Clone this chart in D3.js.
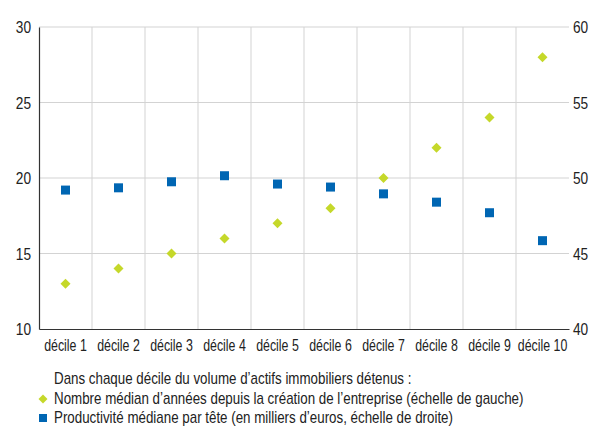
<!DOCTYPE html>
<html>
<head>
<meta charset="utf-8">
<script src="https://cdn.jsdelivr.net/npm/d3@7"></script>
<style>
  html, body { margin: 0; padding: 0; background: #fff; }
  svg text { font-family: "Liberation Sans", Arial, sans-serif; fill: #222; }
</style>
</head>
<body>
<svg id="chart" width="599" height="428"></svg>
<script>
// Deciles of real-estate assets held
const categories = ["décile 1", "décile 2", "décile 3", "décile 4", "décile 5",
                    "décile 6", "décile 7", "décile 8", "décile 9", "décile 10"];
// Median number of years since company creation (left scale)
const ageValues = [13, 14, 15, 16, 17, 18, 20, 22, 24, 28];
// Median productivity per head, thousands of euros (right scale)
const productivityValues = [49.2, 49.35, 49.75, 50.15, 49.6, 49.4, 48.95, 48.4, 47.7, 45.85];
const leftTicks = [10, 15, 20, 25, 30];
const rightTicks = [40, 45, 50, 55, 60];
const legendTitle = "Dans chaque décile du volume d’actifs immobiliers détenus :";
const legendLabels = [
  "Nombre médian d’années depuis la création de l’entreprise (échelle de gauche)",
  "Productivité médiane par tête (en milliers d’euros, échelle de droite)"
];

const green = "#c5d82a";
const blue = "#0066b3";
const gridColor = "#d3d3d3";

const svg = d3.select("#chart");
const m = { left: 39, right: 569, top: 27, bottom: 329 };

// condensed look: narrow each text horizontally around its own x position
function condense(sel, ratio) {
  sel.each(function () {
    const t = d3.select(this);
    const x0 = +t.attr("x") || 0;
    const y0 = +t.attr("y") || 0;
    t.attr("x", 0).attr("y", 0)
     .attr("transform", `translate(${x0},${y0}) scale(${ratio},1)`);
  });
}

const x = d3.scaleBand().domain(categories).range([m.left, m.right]).padding(0);
const yL = d3.scaleLinear().domain([10, 30]).range([m.bottom, m.top]);
const yR = d3.scaleLinear().domain([40, 60]).range([m.bottom, m.top]);

// horizontal gridlines
svg.append("g").selectAll("line").data(leftTicks.slice(1)).join("line")
  .attr("x1", m.left).attr("x2", m.right)
  .attr("y1", d => yL(d)).attr("y2", d => yL(d))
  .attr("stroke", gridColor).attr("stroke-width", 1);

// vertical gridlines between deciles
svg.append("g").selectAll("line").data(categories.slice(1)).join("line")
  .attr("x1", d => x(d)).attr("x2", d => x(d))
  .attr("y1", m.top).attr("y2", m.bottom)
  .attr("stroke", gridColor).attr("stroke-width", 1);

// left axis
const axL = svg.append("g").attr("transform", `translate(${m.left},0)`)
  .call(d3.axisLeft(yL).tickValues(leftTicks).tickSize(0).tickPadding(8));
axL.select(".domain").attr("stroke", "#333").attr("stroke-width", 1.2);
axL.selectAll("text").style("font-size", "16.5px").attr("dy", "0.35em").call(condense, 0.83);

// right axis (labels only)
const axR = svg.append("g").attr("transform", `translate(${m.right},0)`)
  .call(d3.axisRight(yR).tickValues(rightTicks).tickSize(0).tickPadding(4));
axR.select(".domain").remove();
axR.selectAll("text").style("font-size", "16.5px").attr("dy", "0.35em").call(condense, 0.83);

// bottom axis
const axB = svg.append("g").attr("transform", `translate(0,${m.bottom})`)
  .call(d3.axisBottom(x).tickSize(0).tickPadding(12));
axB.select(".domain").attr("stroke", "#333").attr("stroke-width", 1.2);
axB.selectAll("text").style("font-size", "16.5px").attr("dy", "0.6em").call(condense, 0.75);

const cx = d => x(d) + x.bandwidth() / 2;

// productivity squares
svg.append("g").selectAll("rect").data(categories).join("rect")
  .attr("x", d => cx(d) - 4.5)
  .attr("y", (d, i) => yR(productivityValues[i]) - 4.5)
  .attr("width", 9).attr("height", 9)
  .attr("fill", blue);

// age diamonds
const diamond = d3.symbol().type(d3.symbolSquare).size(50);
svg.append("g").selectAll("path").data(categories).join("path")
  .attr("d", diamond)
  .attr("transform", (d, i) => `translate(${cx(d)},${yL(ageValues[i])}) rotate(45)`)
  .attr("fill", green);

// legend
const lg = svg.append("g").style("font-size", "16px");
lg.append("text").attr("x", 54).attr("y", 384).text(legendTitle).attr("class", "lt");
lg.append("path").attr("d", d3.symbol().type(d3.symbolSquare).size(40))
  .attr("transform", "translate(43,399) rotate(45)").attr("fill", green);
lg.append("text").attr("x", 54).attr("y", 404).text(legendLabels[0]).attr("class", "lt");
lg.append("rect").attr("x", 39).attr("y", 414).attr("width", 8).attr("height", 8).attr("fill", blue);
lg.append("text").attr("x", 54).attr("y", 423).text(legendLabels[1]).attr("class", "lt");
lg.selectAll("text.lt").call(condense, 0.835);
</script>
</body>
</html>
